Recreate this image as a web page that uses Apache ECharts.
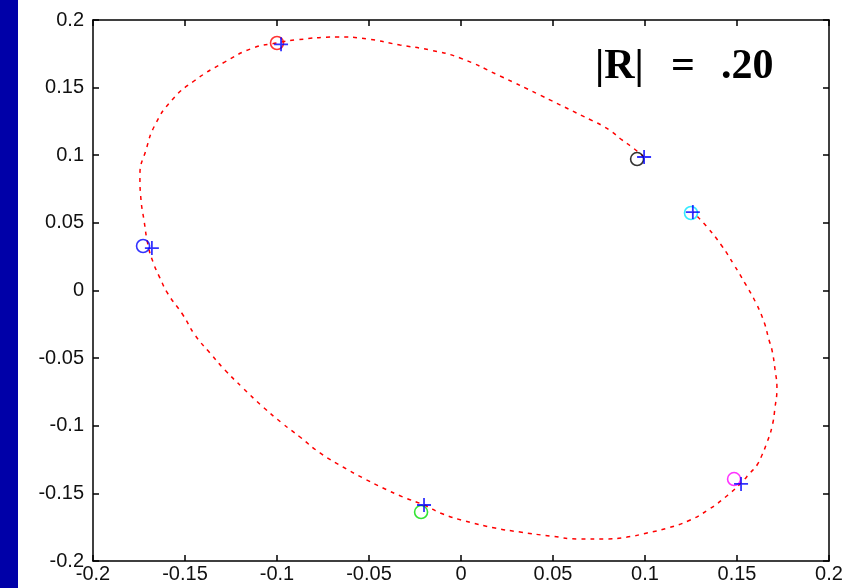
<!DOCTYPE html>
<html>
<head>
<meta charset="utf-8">
<script src="https://cdn.jsdelivr.net/npm/echarts@6/dist/echarts.min.js"></script>
<style>html,body{margin:0;padding:0;background:#fff}#c{width:858px;height:588px}</style>
</head>
<body>
<div id="c"></div>
<script>
// Curve (red dashed path)
var curveX = [0.0995,0.0929,0.0875,0.0821,0.0766,0.0717,0.0429,0.0212,-0.0005,-0.0168,-0.0332,-0.0511,-0.0674,-0.0902,-0.1,-0.113,-0.1283,-0.1451,-0.1571,-0.1663,-0.1712,-0.1745,-0.1739,-0.1723,-0.1701,-0.1674,-0.1636,-0.1592,-0.1511,-0.1446,-0.1364,-0.1283,-0.1185,-0.1076,-0.0973,-0.0875,-0.0766,-0.0641,-0.0533,-0.0424,-0.0315,-0.0201,-0.0098,0.0022,0.0185,0.0321,0.0484,0.0647,0.0783,0.0902,0.1011,0.1125,0.1234,0.1342,0.1451,0.1522,0.1571,0.1609,0.1636,0.1658,0.169,0.1707,0.1717,0.1707,0.169,0.1674,0.1647,0.1603,0.1543,0.1484,0.1418,0.1337,0.126];
var curveY = [0.0987,0.1061,0.1113,0.1172,0.122,0.1253,0.1445,0.1586,0.1719,0.1778,0.1815,0.186,0.1874,0.1852,0.183,0.1793,0.169,0.1549,0.1408,0.1224,0.1039,0.0854,0.0669,0.0521,0.0336,0.0211,0.0092,-0.0026,-0.0181,-0.0329,-0.0462,-0.0588,-0.0721,-0.0861,-0.098,-0.1083,-0.1201,-0.1305,-0.1386,-0.146,-0.1527,-0.1586,-0.1653,-0.1704,-0.1756,-0.1786,-0.1815,-0.1837,-0.1837,-0.1823,-0.1793,-0.1756,-0.1704,-0.1623,-0.1512,-0.1423,-0.1349,-0.129,-0.1216,-0.1142,-0.1009,-0.0861,-0.0721,-0.0588,-0.044,-0.0366,-0.0233,-0.0092,0.0055,0.0189,0.0329,0.047,0.058];
// Circle markers
var circleX = [-0.1, 0.0957, 0.125, 0.1484, -0.0217, -0.1728];
var circleY = [0.183, 0.0972, 0.0573, -0.1394, -0.1638, 0.0329];
var circleColors = ['#ff0000', '#000000', '#00e5ff', '#ff00ff', '#00dd00', '#0000ff'];
// Plus markers
var plusX = [-0.0978, 0.0995, 0.126, 0.1522, -0.0201, -0.168];
var plusY = [0.182, 0.0987, 0.058, -0.143, -0.1586, 0.0314];
// Tick labels
var xTickLabels = ['-0.2','-0.15','-0.1','-0.05','0','0.05','0.1','0.15','0.2'];
var yTickLabels = ['-0.2','-0.15','-0.1','-0.05','0','0.05','0.1','0.15','0.2'];
var annotationParts = ['|R|', '=', '.20'];

var chart = echarts.init(document.getElementById('c'));
function idx(v){ return Math.round((v + 0.2) / 0.05); }
var axisCommon = {
  min: -0.2, max: 0.2, interval: 0.05,
  axisLine: {show: true, onZero: false, lineStyle: {color: '#000', width: 1.5}},
  axisTick: {show: true, inside: true, length: 6, lineStyle: {color: '#000', width: 1.5}},
  splitLine: {show: false}
};
var curveData = curveX.map(function(x, i){ return [x, curveY[i]]; });
var circleData = circleX.map(function(x, i){
  return {value: [x, circleY[i]], itemStyle: {borderColor: circleColors[i]}};
});
var plusData = plusX.map(function(x, i){ return [x, plusY[i]]; });
var annLeft = [595, 671, 721];
var annFont = 'bold 42px "Liberation Serif"';

chart.setOption({
  animation: false,
  backgroundColor: '#fff',
  grid: {left: 93, top: 20, right: 29, bottom: 27, containLabel: false},
  xAxis: [
    Object.assign({type: 'value', position: 'bottom',
      axisLabel: {show: true, margin: 3, color: '#111', fontSize: 20, fontFamily: 'Liberation Sans',
        formatter: function(v){ return xTickLabels[idx(v)]; }}}, axisCommon),
    Object.assign({type: 'value', position: 'top', axisLabel: {show: false}}, axisCommon)
  ],
  yAxis: [
    Object.assign({type: 'value', position: 'left',
      axisLabel: {show: true, margin: 9, color: '#111', fontSize: 20, fontFamily: 'Liberation Sans',
        formatter: function(v){ return yTickLabels[idx(v)]; }}}, axisCommon),
    Object.assign({type: 'value', position: 'right', axisLabel: {show: false}}, axisCommon)
  ],
  series: [
    {type: 'line', data: curveData, smooth: 0.5, showSymbol: false, silent: true,
     lineStyle: {color: '#ff0000', width: 1.5, type: [4, 5]}, z: 2},
    {type: 'scatter', data: circleData, symbol: 'circle', symbolSize: 13,
     itemStyle: {color: 'transparent', borderWidth: 1.6}, z: 3},
    {type: 'scatter', data: plusData, symbol: 'path://M5,0L5,10M0,5L10,5', symbolSize: 14,
     itemStyle: {color: 'transparent', borderColor: '#0000ff', borderWidth: 1.8}, z: 4}
  ],
  graphic: [
    {type: 'rect', left: 0, top: 0, shape: {x: 0, y: 0, width: 18, height: 588}, style: {fill: '#0000a8'}, silent: true}
  ].concat(annotationParts.map(function(t, i){
    return {type: 'text', left: annLeft[i], top: 46, style: {text: t, fill: '#000', font: annFont}};
  }))
});
</script>
</body>
</html>
